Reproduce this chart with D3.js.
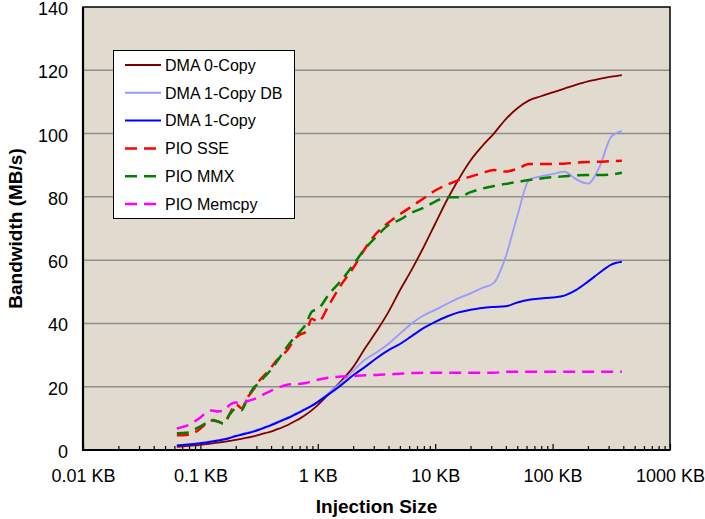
<!DOCTYPE html>
<html>
<head>
<meta charset="utf-8">
<script src="https://cdn.jsdelivr.net/npm/d3@7"></script>
<style>
  body { margin: 0; background: #fff; }
  svg { display: block; font-family: Arial, "Liberation Sans", sans-serif; }
</style>
</head>
<body>
<div id="chart"></div>
<script>
// injection sizes in KB
const sizes = [0.063, 0.071, 0.079, 0.089, 0.1, 0.112, 0.126, 0.141, 0.158, 0.178, 0.2, 0.224, 0.251,
  0.282, 0.316, 0.355, 0.398, 0.447, 0.501, 0.562, 0.631, 0.708, 0.794, 0.891, 1,
  1.26, 1.58, 2.0, 2.51, 3.16, 3.98, 5.01, 6.31, 7.94, 10, 12.6, 15.8, 20, 25.1, 31.6, 39.8,
  50.1, 63.1, 79.4, 100, 126, 158, 200, 251, 316, 389];

// bandwidth in MB/s
const dma0Copy = [1.0, 1.15, 1.3, 1.45, 1.6, 1.85, 2.1, 2.35, 2.6, 2.9, 3.2, 3.55, 3.9, 4.3, 4.8, 5.3, 5.8,
  6.5, 7.2, 8.0, 9.0, 10.0, 11.2, 12.6, 14.2,
  18.0, 21.8, 26.2, 32.0, 37.5, 43.5, 50.5, 57, 64, 71.5, 79, 85.5, 91.5, 96, 100, 104.5, 108,
  110.5, 111.8, 113, 114.2, 115.4, 116.5, 117.3, 118, 118.5];
const dma1CopyDB = [1.5, 1.65, 1.8, 2.0, 2.2, 2.5, 2.8, 3.1, 3.45, 3.95, 4.55, 5.0, 5.5, 6.0, 6.6, 7.3, 8.0,
  8.8, 9.6, 10.4, 11.3, 12.2, 13.2, 14.1, 15.2,
  18.2, 21.3, 25.0, 28.5, 30.8, 33.5, 36.8, 40.0, 42.5, 44.3, 46.2, 48.0, 49.5, 51.2, 52.8, 61, 74,
  85.3, 86.5, 87.2, 88.0, 85.6, 84.2, 89.5, 99, 100.8];
const dma1Copy = [1.4, 1.55, 1.7, 1.9, 2.1, 2.4, 2.7, 3.0, 3.3, 3.8, 4.4, 4.8, 5.3, 5.8, 6.4, 7.1, 7.8,
  8.6, 9.4, 10.2, 11.1, 12.0, 13.0, 14.0, 15.2,
  17.8, 20.5, 23.6, 26.2, 29.0, 31.5, 33.5, 36.0, 38.5, 40.5, 42.2, 43.5, 44.3, 44.9, 45.2, 45.4, 46.6,
  47.5, 47.9, 48.2, 48.8, 50.5, 53.2, 56, 58.6, 59.5];
const pioSSE = [4.7, 4.7, 4.8, 5.5, 6.8, 8.3, 9.3, 9.0, 8.4, 11.5, 14.5, 13.2, 16.5, 19.0, 21.8, 23.8, 26.0,
  28.3, 30.0, 32.0, 35.0, 36.5, 37.4, 41.5, 40.5,
  46.2, 52.2, 57.5, 63.5, 68.5, 71.8, 74.5, 77, 79.5, 82, 83.8, 85.3, 86.4, 87.5, 88.5, 88.0, 88.9,
  90.4, 90.4, 90.4, 90.5, 90.8, 91, 91.1, 91.3, 91.4];
const pioMMX = [5.3, 5.4, 5.5, 6.5, 7.5, 8.5, 9.5, 9.0, 8.3, 11.3, 13.0, 12.6, 16.2, 19.5, 21.2, 23.3, 25.3,
  27.9, 30.5, 33.2, 35.5, 37.5, 39.8, 43.8, 44.5,
  49.5, 53.5, 58.5, 63.5, 67.5, 71, 72.8, 75, 76.5, 78.5, 79.9, 79.9, 81.5, 82.6, 83.4, 84.1, 84.7,
  85.3, 85.8, 86.2, 86.5, 86.8, 86.9, 86.9, 87.1, 87.6];
const pioMemcpy = [6.8, 7.3, 7.9, 9.0, 10.3, 11.8, 12.5, 12.2, 12.4, 14.3, 15.0, 14.8, 15.4, 16.0, 16.8, 17.8,
  18.7, 19.5, 20.2, 20.7, 20.8, 20.9, 21.2, 21.6, 22.2,
  22.9, 23.2, 23.4, 23.6, 23.7, 23.9, 24.1, 24.3, 24.4, 24.4, 24.4, 24.4, 24.4, 24.4, 24.4, 24.7, 24.7,
  24.7, 24.7, 24.7, 24.7, 24.7, 24.7, 24.7, 24.7, 24.7];

const seriesNames = ["DMA 0-Copy", "DMA 1-Copy DB", "DMA 1-Copy", "PIO SSE", "PIO MMX", "PIO Memcpy"];
const seriesValues = [dma0Copy, dma1CopyDB, dma1Copy, pioSSE, pioMMX, pioMemcpy];

const xTicks = [0.01, 0.1, 1, 10, 100, 1000];
const xTickLabels = ["0.01 KB", "0.1 KB", "1 KB", "10 KB", "100 KB", "1000 KB"];
const yTicks = [0, 20, 40, 60, 80, 100, 120, 140];

const styles = [
  {color: "#800000", width: 1.8, dash: null},
  {color: "#9999ff", width: 1.8, dash: null},
  {color: "#0000ff", width: 2, dash: null},
  {color: "#ff0000", width: 2.5, dash: "12,7"},
  {color: "#008000", width: 2.5, dash: "12,7"},
  {color: "#ff00ff", width: 2.5, dash: "12,7"}
];

const width = 705, height = 519;
const m = {left: 83, right: 35, top: 7, bottom: 69};
const pw = width - m.left - m.right, ph = height - m.top - m.bottom;

const x = d3.scaleLog().domain([0.01, 1000]).range([m.left, m.left + pw]);
const y = d3.scaleLinear().domain([0, 140]).range([m.top + ph, m.top]);

const svg = d3.select("#chart").append("svg")
  .attr("width", width)
  .attr("height", height);

// plot background
svg.append("rect")
  .attr("x", m.left).attr("y", m.top)
  .attr("width", pw).attr("height", ph)
  .attr("fill", "#e1dace");

// gridlines
svg.append("g")
  .selectAll("line")
  .data(yTicks.filter(d => d > 0 && d < 140))
  .join("line")
  .attr("x1", m.left).attr("x2", m.left + pw)
  .attr("y1", d => y(d)).attr("y2", d => y(d))
  .attr("stroke", "#8e8e8e")
  .attr("stroke-width", 1.5);

// minor x ticks
const minor = [];
xTicks.slice(0, -1).forEach(t => { for (let k = 2; k < 10; k++) minor.push(t * k); });

svg.append("g")
  .attr("transform", `translate(0,${m.top + ph})`)
  .call(d3.axisBottom(x).tickValues(minor).tickSizeInner(-4).tickSizeOuter(0).tickFormat(""))
  .call(g => g.select(".domain").remove())
  .call(g => g.selectAll("line").attr("stroke", "#000").attr("stroke-width", 1.2));

// major x ticks with labels
svg.append("g")
  .attr("transform", `translate(0,${m.top + ph})`)
  .call(d3.axisBottom(x).tickValues(xTicks).tickSizeInner(-6).tickSizeOuter(0).tickPadding(19)
    .tickFormat((d, i) => xTickLabels[i]))
  .call(g => g.select(".domain").remove())
  .call(g => g.selectAll("line").attr("stroke", "#000").attr("stroke-width", 1.2))
  .call(g => g.selectAll("text").attr("font-size", 18).attr("fill", "#000")
    .attr("font-family", "Arial, 'Liberation Sans', sans-serif"));

// y axis labels
svg.append("g")
  .attr("transform", `translate(${m.left},0)`)
  .call(d3.axisLeft(y).tickValues(yTicks).tickSize(0).tickPadding(15))
  .call(g => g.select(".domain").remove())
  .call(g => g.selectAll("text").attr("font-size", 18).attr("fill", "#000").attr("dy", "0.42em")
    .attr("font-family", "Arial, 'Liberation Sans', sans-serif"));

// frame
svg.append("rect")
  .attr("x", m.left).attr("y", m.top)
  .attr("width", pw).attr("height", ph)
  .attr("fill", "none")
  .attr("stroke", "#000")
  .attr("stroke-width", 1.5);
svg.append("path")
  .attr("d", `M${m.left},${m.top}V${m.top + ph}H${m.left + pw}`)
  .attr("fill", "none")
  .attr("stroke", "#000")
  .attr("stroke-width", 2.2);

// series lines
const line = d3.line()
  .x((d, i) => x(sizes[i]))
  .y(d => y(d))
  .curve(d3.curveMonotoneX);

svg.append("g")
  .selectAll("path")
  .data(seriesValues)
  .join("path")
  .attr("d", line)
  .attr("fill", "none")
  .attr("stroke", (d, i) => styles[i].color)
  .attr("stroke-width", (d, i) => styles[i].width)
  .attr("stroke-dasharray", (d, i) => styles[i].dash)
  .attr("stroke-linejoin", "round");

// legend
const lg = svg.append("g");
lg.append("rect")
  .attr("x", 113.5).attr("y", 50.5)
  .attr("width", 181).attr("height", 168)
  .attr("fill", "#fff")
  .attr("stroke", "#000")
  .attr("stroke-width", 1);

const item = lg.selectAll("g.item")
  .data(seriesNames)
  .join("g")
  .attr("class", "item")
  .attr("transform", (d, i) => `translate(0,${65 + i * 27.8})`);

item.append("line")
  .attr("x1", 125).attr("x2", 161)
  .attr("stroke", (d, i) => styles[i].color)
  .attr("stroke-width", (d, i) => styles[i].dash ? 2.5 : 2)
  .attr("stroke-dasharray", (d, i) => styles[i].dash ? "12,7" : null);

item.append("text")
  .attr("x", 165)
  .attr("dy", "0.36em")
  .attr("font-size", 16)
  .text(d => d);

// axis titles
svg.append("text")
  .attr("x", m.left + pw / 2)
  .attr("y", 513)
  .attr("text-anchor", "middle")
  .attr("font-size", 19)
  .attr("font-weight", "bold")
  .text("Injection Size");

svg.append("text")
  .attr("transform", `translate(22,${m.top + ph / 2}) rotate(-90)`)
  .attr("text-anchor", "middle")
  .attr("font-size", 19)
  .attr("font-weight", "bold")
  .text("Bandwidth (MB/s)");
</script>
</body>
</html>
